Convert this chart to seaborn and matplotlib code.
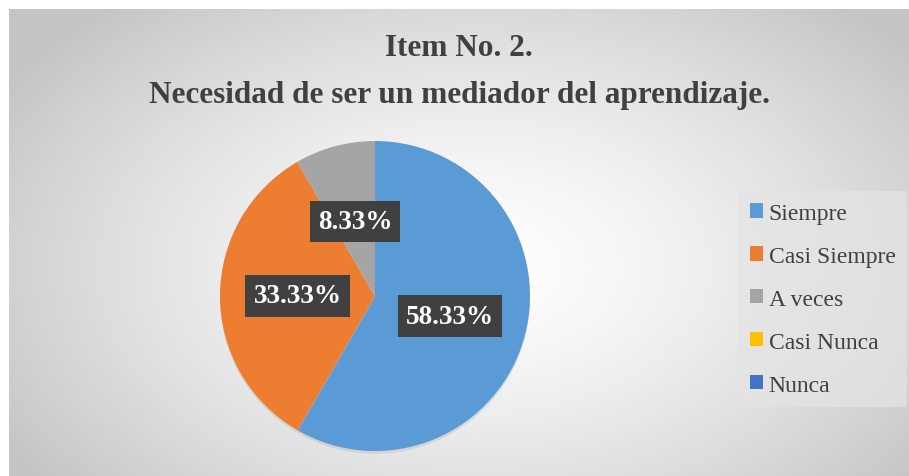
import numpy as np
import matplotlib
matplotlib.use("Agg")
import matplotlib.pyplot as plt
import matplotlib.patheffects as pe
from matplotlib.patches import Patch
import seaborn as sns

# Data
categories = ['Siempre', 'Casi Siempre', 'A veces', 'Casi Nunca', 'Nunca']
values = [58.33, 33.33, 8.33, 0, 0]
colors = ['#5B9BD5', '#ED7D31', '#A5A5A5', '#FFC000', '#4472C4']
pct_labels = ['58.33%', '33.33%', '8.33%', '', '']

sns.set_style('white')
plt.rcParams['font.family'] = ['Liberation Serif', 'DejaVu Serif']

W, H = 909, 477
fig = plt.figure(figsize=(W / 100, H / 100), dpi=100)
fig.patch.set_facecolor('white')

# Chart area with radial gradient background
x0, y0 = 9, 10
bg = fig.add_axes([x0 / W, 0, (W - x0) / W, (H - y0) / H])
yy, xx = np.mgrid[0:H - y0, 0:W - x0]
cx, cy = (W - x0) * 0.52, (H - y0) * 0.55
r = np.sqrt(((xx - cx) / ((W - x0) * 0.62)) ** 2 + ((yy - cy) / ((H - y0) * 0.75)) ** 2)
r = np.clip(r, 0, 1)
shade = 1.0 - 0.23 * r ** 1.4
bg.imshow(np.dstack([shade, shade, shade]), aspect='auto', extent=[0, 1, 0, 1])
bg.set_axis_off()

fig.text(0.505, 1 - 49 / H, 'Item No. 2.', ha='center', va='center',
         fontsize=22.5, fontweight='bold', color='#404040')
fig.text(0.505, 1 - 95 / H, 'Necesidad de ser un mediador del aprendizaje.',
         ha='center', va='center', fontsize=22.5, fontweight='bold', color='#404040')

# Pie
pcx, pcy, pr = 375, 297, 155
ax = fig.add_axes([(pcx - pr) / W, (H - pcy - pr) / H, 2 * pr / W, 2 * pr / H])
wedges, texts = ax.pie(values, colors=colors, startangle=90, counterclock=False,
                       labels=pct_labels, labeldistance=0.5,
                       wedgeprops=dict(linewidth=0),
                       textprops=dict(color='white', fontsize=19.5, fontweight='bold',
                                      ha='center', va='center'))
ax.set_xlim(-1, 1)
ax.set_ylim(-1, 1)
ax.set_aspect('equal')
for w in wedges:
    w.set_path_effects([pe.SimplePatchShadow(offset=(0, -2), shadow_rgbFace='#aaaaaa', alpha=0.3),
                        pe.Normal()])
for t in texts:
    if t.get_text():
        t.set_bbox(dict(boxstyle='square,pad=0.3', facecolor='#404040', edgecolor='none'))

handles = [Patch(facecolor=c, edgecolor='none') for c in colors]
leg = fig.legend(handles, categories, loc='upper left',
                 bbox_to_anchor=(738 / W, 1 - 192 / H), borderaxespad=0,
                 frameon=True, fancybox=False, facecolor='#e4e4e4', edgecolor='none',
                 framealpha=0.7, fontsize=17, handlelength=0.55, handleheight=0.55,
                 handletextpad=0.25, labelspacing=0.93, borderpad=0.5, labelcolor='#404040')

fig.savefig('out.png', dpi=100)
